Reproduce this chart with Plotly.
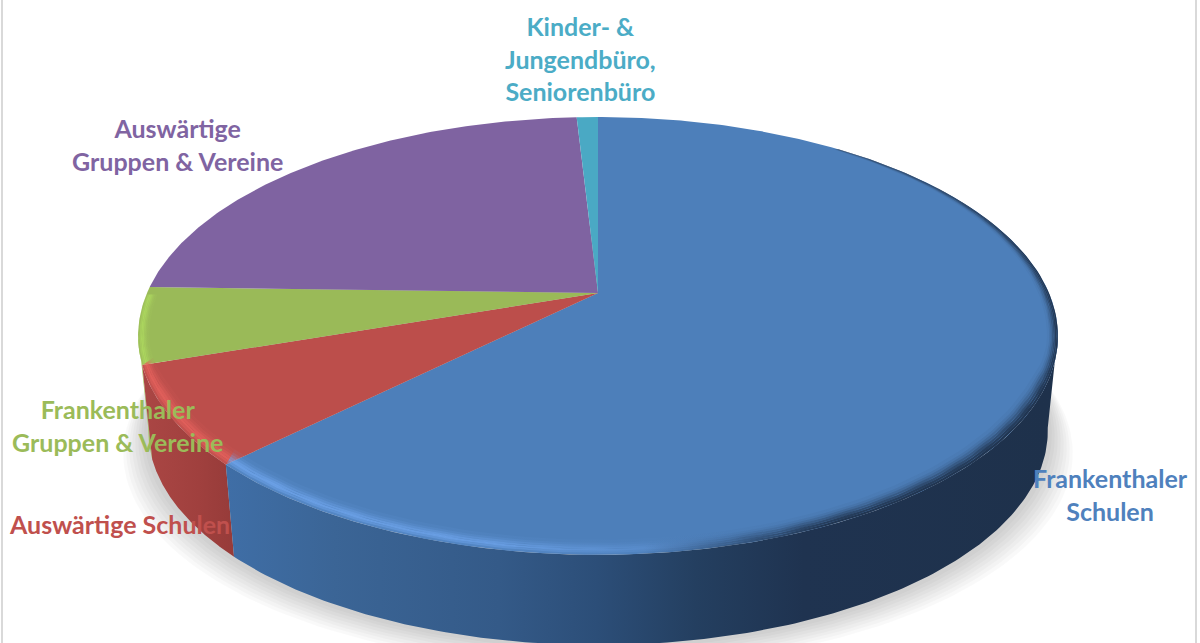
import numpy as np
import plotly.graph_objects as go

# ---- data (share of each group, clockwise from 12 o'clock) ----
categories = ["Frankenthaler Schulen", "Auswärtige Schulen", "Frankenthaler Gruppen & Vereine",
              "Auswärtige Gruppen & Vereine", "Kinder- & Jungendbüro, Seniorenbüro"]
values = [62.6, 7.2, 5.65, 23.65, 0.9]
top_colors = ["#4d7fba", "#bc4e4b", "#9aba58", "#7f63a1", "#4aa9c4"]
label_colors = ["#4f81bd", "#c0504d", "#9bbb59", "#8064a2", "#4bacc6"]
label_texts = ["Frankenthaler<br>Schulen", "Auswärtige Schulen", "Frankenthaler<br>Gruppen & Vereine",
               "Auswärtige<br>Gruppen & Vereine", "Kinder- &<br>Jungendbüro,<br>Seniorenbüro"]
label_x = [1110, 119, 117, 177, 580]
label_y = [494, 524, 425, 144, 58]

# ---- perspective disc geometry ----
APEX_X, APEX_Y = 598.0, 293.0
A, B, K = 451.0, 210.5, 0.196
SIDE_SCALE, TOP_CY, BOT_CY = 0.978, 336.0, 431.0
SIL_R = 100.5  # clockwise angle where the right edge of the disc turns back
SIL_L = 259.5  # same on the left


def rim(theta_deg):
    t = np.radians(theta_deg)
    x, y = np.sin(t), np.cos(t)
    d = 1 + K * y
    return APEX_X + A * x / d, APEX_Y - B * y / d


def bottom(theta_deg):
    x, y = rim(theta_deg)
    return APEX_X + SIDE_SCALE * (x - APEX_X), BOT_CY + SIDE_SCALE * (y - TOP_CY)


edges = np.concatenate([[0], np.cumsum(values)]) * 3.6
fig = go.Figure()


def poly(x, y, **kw):
    fig.add_trace(go.Scatter(x=np.asarray(x), y=np.asarray(y), mode="lines", fill="toself",
                             line=dict(width=0), hoverinfo="skip", showlegend=False, **kw))


# soft shadow under the disc
th = np.linspace(0, 360, 241)
bx, by = bottom(th)
for e in (25, 22, 19, 16, 13, 10, 7, 4):
    poly(APEX_X + (bx - APEX_X) * (1 + e / 450), by + e * 0.9, fillcolor="rgba(0,0,0,0.022)")


# side walls
def wall(a0, a1, stops, x0, x1):
    th = np.linspace(a0, a1, 160)
    tx, ty = rim(th)
    ux, uy = bottom(th)
    poly(np.concatenate([tx, ux[::-1]]), np.concatenate([ty, uy[::-1]]),
         fillgradient=dict(type="horizontal", start=x0, stop=x1, colorscale=stops))


wall(edges[2], SIL_L, [[0, "#a6cc5c"], [1, "#93b552"]], 137, 160)
wall(edges[1], edges[2], [[0, "#aa4644"], [0.6, "#a0403e"], [1, "#963b39"]], 145, 235)
wall(SIL_R, edges[1], [[0, "#3f6ea6"], [0.13, "#3b6596"], [0.33, "#345a88"], [0.45, "#2c4e78"],
                       [0.57, "#243f60"], [0.70, "#1f3350"], [1, "#1e314b"]], 227, 1050)

# top faces
for i, col in enumerate(top_colors):
    th = np.linspace(edges[i], edges[i + 1], max(4, int(values[i] * 6)))
    x, y = rim(th)
    poly(np.r_[APEX_X, x], np.r_[APEX_Y, y], fillcolor=col)

# bevel along the front rim
band_t = [0, 2, 4, 6, 8, 10, 12, 15]
light_profile = [0.25, 0.7, 1.0, 0.85, 0.55, 0.28, 0.1]
dark_profile = [1.0, 0.9, 0.7, 0.5, 0.3, 0.15, 0.05]


def band(a0, a1, t0, t1, stops, x0, x1):
    th = np.linspace(a0, a1, 140)
    x, y = rim(th)
    w = np.clip((y - TOP_CY) / 60, 0, 1)
    k0, k1 = 1 - t0 * 0.0016, 1 - t1 * 0.0016
    px = np.concatenate([APEX_X + (x - APEX_X) * k0, (APEX_X + (x - APEX_X) * k1)[::-1]])
    py = np.concatenate([y - t0 * w, (y - t1 * w)[::-1]])
    poly(px, py, fillgradient=dict(type="horizontal", start=x0, stop=x1, colorscale=stops))


for i in range(len(band_t) - 1):
    t0, t1 = band_t[i], band_t[i + 1]
    a = light_profile[i]
    d = dark_profile[i]
    band(38, edges[1], t0, t1,
         [[0, f"rgba(120,175,250,{0.65 * a})"], [0.33, f"rgba(120,175,250,{0.6 * a})"],
          [0.62, "rgba(120,175,250,0)"], [1, "rgba(120,175,250,0)"]], 227, 1060)
    band(38, edges[1], t0, t1,
         [[0, "rgba(31,50,76,0)"], [0.5, "rgba(31,50,76,0)"],
          [0.72, f"rgba(31,50,76,{0.95 * d})"], [1, f"rgba(31,50,76,{0.95 * d})"]], 227, 1060)
    band(edges[1], edges[2], t0, t1,
         [[0, f"rgba(235,100,95,{0.75 * a})"], [1, f"rgba(235,100,95,{0.75 * a})"]], 140, 240)
    band(edges[2], edges[3] - 2, t0, t1,
         [[0, f"rgba(175,220,95,{0.8 * a})"], [1, f"rgba(175,220,95,{0.8 * a})"]], 130, 200)

annotations = [
    dict(x=lx, y=ly, text=t, showarrow=False, xref="x", yref="y", align="center",
         font=dict(family="Lato", size=25, color=c, weight="bold"))
    for lx, ly, t, c in zip(label_x, label_y, label_texts, label_colors)
]

shapes = [
    dict(type="line", x0=x, x1=x, y0=0, y1=643, xref="x", yref="y", layer="below",
         line=dict(color="#d9d9d9", width=2))
    for x in (2, 1196)
]

fig.update_layout(
    width=1200, height=643, margin=dict(l=0, r=0, t=0, b=0),
    paper_bgcolor="white", plot_bgcolor="white", showlegend=False,
    xaxis=dict(range=[0, 1200], visible=False, fixedrange=True),
    yaxis=dict(range=[643, 0], visible=False, fixedrange=True),
    annotations=annotations, shapes=shapes,
)
fig.write_html("out.html", config=dict(displayModeBar=False),
               post_script="document.body.style.margin='0';")
